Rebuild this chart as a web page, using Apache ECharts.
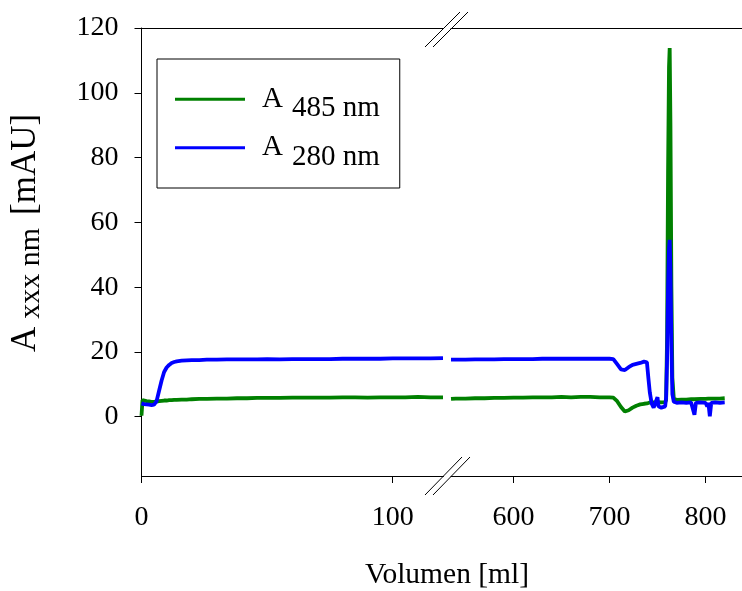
<!DOCTYPE html>
<html><head><meta charset="utf-8">
<script src="https://cdn.jsdelivr.net/npm/echarts@6/dist/echarts.min.js"></script>
<style>html,body{margin:0;padding:0;background:#fff}#c{width:742px;height:591px}</style>
</head><body><div id="c"></div>
<script>
// ---- data ----
const seriesNames = ['A 485 nm', 'A 280 nm'];
const yTicks = [0, 20, 40, 60, 80, 100, 120];
const xTicksLeft = [0, 100];
const xTicksRight = [600, 700, 800];

const volLeft = [0,0.4,1,2,3,4,5,6,7,8, 9,10,11,12,13,14,16,18,20,23, 26,30,34,38,42,46,50,55,60,65, 70,75,80,85,90,95,100,105,110,115, 120];
const a485Left = [0.3,5.1,5.0,4.8,4.7,4.6,4.6,4.7,4.8,4.9, 5.0,5.0,5.1,5.1,5.2,5.2,5.3,5.3,5.4,5.5, 5.5,5.6,5.6,5.7,5.7,5.8,5.8,5.8,5.9,5.9, 5.9,5.9,6.0,6.0,5.9,6.0,6.0,6.0,6.1,6.0, 6.0];
const a280Left = [4.1,4.0,3.9,3.8,3.7,3.6,3.7,4.8,8.0,11.2, 13.8,15.2,16.0,16.6,16.9,17.1,17.3,17.4,17.5,17.5, 17.6,17.6,17.7,17.7,17.7,17.7,17.8,17.7,17.8,17.8, 17.8,17.8,17.9,17.9,17.9,17.9,18.0,18.0,18.0,18.0, 18.1];

const volRight = [535,540,550,560,570,580,590,600,610,620, 630,640,650,660,670,680,690,700,704,708, 712,716,720,724,728,732,736,739,740.5,742, 744,746,748,750,751,752,754,756,758,759, 760,761,762,762.7,763.5,764.5,765.5,767,770,775, 780,785,787,788.5,790,795,800,801.8,803,804.5, 806,810,815,820];
const a485Right = [5.5,5.6,5.6,5.7,5.7,5.8,5.8,5.9,5.9,6.0, 6.0,6.0,6.1,6.0,6.1,6.1,6.0,6.0,5.9,4.8, 3.0,1.6,2.0,2.8,3.4,3.8,4.0,4.1,4.3,4.4, 4.5,4.4,4.6,4.5,4.6,4.5,4.4,4.6,4.5,5.2, 25,75,108,113.8,90,40,12,5.5,5.2,5.3, 5.3,5.4,5.4,5.4,5.4,5.5,5.5,5.5,5.6,5.5, 5.6,5.6,5.6,5.7];
const a280Right = [17.6,17.6,17.6,17.7,17.7,17.7,17.8,17.8,17.8,17.8, 17.9,17.9,17.9,17.9,17.9,17.9,17.9,17.9,17.8,16.2, 14.6,14.4,15.3,16.0,16.3,16.6,17.0,16.8,12.0,7.5, 4.0,2.8,3.0,6.0,3.2,2.9,2.8,2.9,3.2,6.0, 18,40,52,54.6,45,22,7,4.6,4.3,4.4, 4.3,4.4,4.3,0.6,4.3,4.4,4.3,3.2,4.3,0.1, 4.3,4.4,4.3,4.4];

// ---- chart ----
const FONT = '"Liberation Serif","Times New Roman",serif';
const GREEN = '#008000', BLUE = '#0000ff';
const yMin = -18.3, yMax = 120;
const pair = (xs, ys) => xs.map((x, i) => [x, ys[i]]);

const chart = echarts.init(document.getElementById('c'), null, {renderer: 'canvas'});

const tickLabel = (vals) => ({customValues: vals, margin: 28, fontFamily: FONT, fontSize: 28, color: '#000'});
const axLine = {show: true, onZero: false, lineStyle: {color: '#000', width: 1}};

function bottomAxis(grid, min, max, ticks) {
  return {gridIndex: grid, type: 'value', position: 'bottom', min, max,
    axisLine: axLine, axisTick: {show: true, customValues: ticks, length: 7, inside: false, lineStyle: {color: '#000'}},
    axisLabel: tickLabel(ticks), splitLine: {show: false}};
}
function topAxis(grid, min, max) {
  return {gridIndex: grid, type: 'value', position: 'top', min, max,
    axisLine: axLine, axisTick: {show: false}, axisLabel: {show: false}, splitLine: {show: false}};
}
function lineSeries(name, xi, data, color) {
  return {name, type: 'line', xAxisIndex: xi, yAxisIndex: xi, data, symbol: 'none', showSymbol: false,
    lineStyle: {color, width: 3.8}, itemStyle: {color}, emphasis: {disabled: true}, animation: false};
}

const option = {
  animation: false,
  backgroundColor: '#fff',
  grid: [
    {left: 141.5, top: 28, width: 302, height: 448, outerBoundsMode: 'none', containLabel: false},
    {left: 451, top: 28, width: 291, height: 448, outerBoundsMode: 'none', containLabel: false}
  ],
  xAxis: [
    bottomAxis(0, 0, 120.2, xTicksLeft),
    bottomAxis(1, 535, 838, xTicksRight),
    topAxis(0, 0, 120.2),
    topAxis(1, 535, 838)
  ],
  yAxis: [
    {gridIndex: 0, type: 'value', min: yMin, max: yMax,
      axisLine: {show: true, onZero: false, lineStyle: {color: '#000', width: 1}},
      axisTick: {show: true, customValues: yTicks, length: 7, lineStyle: {color: '#000'}},
      axisLabel: {customValues: yTicks, margin: 23, fontFamily: FONT, fontSize: 28, color: '#000'},
      splitLine: {show: false}},
    {gridIndex: 1, type: 'value', min: yMin, max: yMax, show: false, splitLine: {show: false}}
  ],
  legend: {
    data: seriesNames, orient: 'vertical', left: 157, top: 59,
    padding: [25.5, 20, 16.5, 18], itemGap: 10, itemWidth: 70, itemHeight: 3, icon: 'rect',
    borderColor: '#000', borderWidth: 1, backgroundColor: '#fff', selectedMode: false,
    textStyle: {fontFamily: FONT, fontSize: 29, color: '#000',
      rich: {
        a: {fontFamily: FONT, fontSize: 29, color: '#000', padding: [9, 0, 0, 12], verticalAlign: 'top'},
        b: {fontFamily: FONT, fontSize: 29, color: '#000', padding: [18.5, 0, 0, 9], verticalAlign: 'top'}
      }},
    formatter: n => '{a|A}{b|' + n.slice(2) + '}'
  },
  series: [
    lineSeries(seriesNames[0], 0, pair(volLeft, a485Left), GREEN),
    lineSeries(seriesNames[0], 1, pair(volRight, a485Right), GREEN),
    lineSeries(seriesNames[1], 0, pair(volLeft, a280Left), BLUE),
    lineSeries(seriesNames[1], 1, pair(volRight, a280Right), BLUE)
  ],
  graphic: [
    {type: 'text', x: 447, y: 575, silent: true,
      style: {text: 'Volumen [ml]', fontFamily: FONT, fontSize: 29.5, fill: '#000', align: 'center', verticalAlign: 'middle'}},
    {type: 'text', x: 27, y: 233, rotation: Math.PI / 2, silent: true,
      style: {text: '{a|A}{b|xxx nm}{c|[mAU]}', fill: '#000', align: 'center', verticalAlign: 'middle',
        fontFamily: FONT, fontSize: 35,
        rich: {
          a: {fontFamily: FONT, fontSize: 35, fill: '#000', color: '#000', verticalAlign: 'top', padding: [0, 0, 0, 0]},
          b: {fontFamily: FONT, fontSize: 30, fill: '#000', color: '#000', verticalAlign: 'top', padding: [8, 0, 0, 8]},
          c: {fontFamily: FONT, fontSize: 35, fill: '#000', color: '#000', verticalAlign: 'top', padding: [0, 0, 0, 13]}
        }}},
    // axis break marks (decoration)
    {type: 'line', silent: true, shape: {x1: 425, y1: 495, x2: 462, y2: 457}, style: {stroke: '#000', lineWidth: 1}},
    {type: 'line', silent: true, shape: {x1: 433, y1: 495, x2: 470, y2: 457}, style: {stroke: '#000', lineWidth: 1}},
    {type: 'line', silent: true, shape: {x1: 425, y1: 47, x2: 460, y2: 12}, style: {stroke: '#000', lineWidth: 1}},
    {type: 'line', silent: true, shape: {x1: 433, y1: 47, x2: 468, y2: 12}, style: {stroke: '#000', lineWidth: 1}}
  ]
};
chart.setOption(option);
</script>
</body></html>
